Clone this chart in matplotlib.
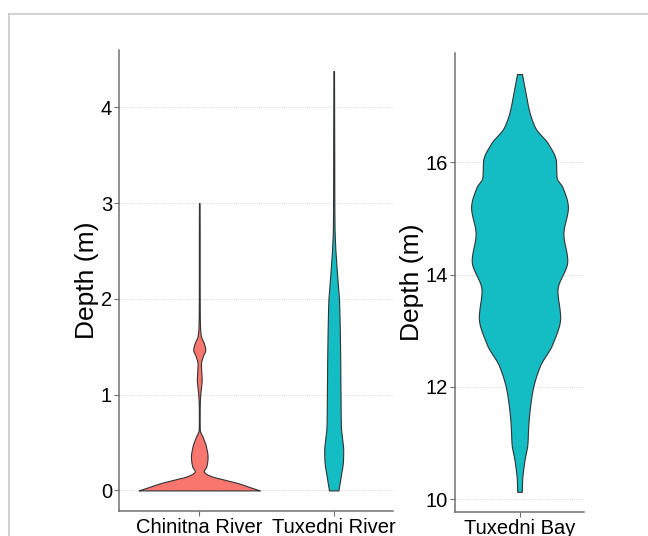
import numpy as np
import matplotlib
matplotlib.use("Agg")
import matplotlib.pyplot as plt
from matplotlib.lines import Line2D

plt.rcParams['font.family'] = ['Liberation Sans', 'DejaVu Sans']

# violin outlines: depth (m) and relative half-width
chinitna_depth = [0, 0.04, 0.075, 0.11, 0.145, 0.18, 0.2, 0.25, 0.35, 0.46, 0.56, 0.63,
                  0.7, 0.8, 0.9, 1.0, 1.08, 1.16, 1.24, 1.32, 1.4, 1.47, 1.54, 1.61,
                  1.7, 1.85, 2.2, 2.6, 3.0]
chinitna_dens = [60.5, 49, 39, 26, 13, 6, 4.5, 7, 8.3, 6.7, 3.3, 0.6,
                 0.4, 0.4, 0.5, 1.0, 1.8, 2.4, 2.0, 1.7, 3.5, 6.0, 4.5, 1.7,
                 0.8, 0.5, 0.4, 0.4, 0.3]

tux_river_depth = [0, 0.145, 0.32, 0.42, 0.56, 0.67, 1.02, 1.37, 1.71, 1.99, 2.13,
                   2.34, 2.55, 2.76, 3.1, 3.6, 4.0, 4.38]
tux_river_dens = [4.7, 7, 9.3, 9.5, 8.2, 7.2, 6.8, 6.5, 6, 5.3, 4.3,
                  2.8, 1.5, 0.8, 0.6, 0.5, 0.4, 0.3]

tux_bay_depth = [10.13, 10.34, 10.69, 10.99, 11.29, 11.88, 12.35, 12.77, 13.24, 13.72,
                 14.25, 14.73, 15.20, 15.56, 15.73, 16.03, 16.33, 16.62, 16.92, 17.22, 17.575]
tux_bay_dens = [2.3, 2.7, 5, 8, 8.8, 12.5, 20, 33.3, 41, 38.3,
                48.2, 44.3, 48.8, 43.3, 37.5, 36.7, 29, 15.8, 9.7, 6.3, 2.5]

left_cats = ['Chinitna River', 'Tuxedni River']
right_cats = ['Tuxedni Bay']
red = '#F8766D'
teal = '#14BCC3'

fig = plt.figure(figsize=(6.48, 5.36), dpi=100)
ax1 = fig.add_axes([119/648, 25/536, 274/648, 461/536])
ax2 = fig.add_axes([455/648, 24/536, 129/648, 459/536])

# light frame line top / left
fig.add_artist(Line2D([9/648, 1], [1-14/536, 1-14/536], color='#c8c8c8', lw=1.2))
fig.add_artist(Line2D([9/648, 9/648], [0, 1-14/536], color='#c8c8c8', lw=1.2))


def pchip(x, y, xi):
    # monotone cubic so the outline is smooth without overshoot
    x = np.asarray(x, float)
    y = np.asarray(y, float)
    h = np.diff(x)
    delta = np.diff(y) / h
    d = np.zeros_like(y)
    for k in range(1, len(x) - 1):
        if delta[k-1] * delta[k] > 0:
            w1 = 2*h[k] + h[k-1]
            w2 = h[k] + 2*h[k-1]
            d[k] = (w1 + w2) / (w1/delta[k-1] + w2/delta[k])
    d[0] = delta[0]
    d[-1] = delta[-1]
    idx = np.clip(np.searchsorted(x, xi) - 1, 0, len(x) - 2)
    t = (xi - x[idx]) / h[idx]
    h00 = 2*t**3 - 3*t**2 + 1
    h10 = t**3 - 2*t**2 + t
    h01 = -2*t**3 + 3*t**2
    h11 = t**3 - t**2
    return h00*y[idx] + h10*h[idx]*d[idx] + h01*y[idx+1] + h11*h[idx]*d[idx+1]


def draw_violin(ax, pos, depth, dens, scale, color):
    y = np.linspace(depth[0], depth[-1], 800)
    w = pchip(depth, dens, y) * scale
    ax.fill_betweenx(y, pos - w, pos + w, facecolor=color, edgecolor='#333333', linewidth=0.8)


def style(ax):
    for s in ['top', 'right']:
        ax.spines[s].set_visible(False)
    for s in ['left', 'bottom']:
        ax.spines[s].set_color('#707070')
        ax.spines[s].set_linewidth(1.1)
    ax.tick_params(colors='#707070', labelcolor='black', labelsize=14.5, length=3.5, width=0.8, pad=1.5)
    ax.yaxis.grid(True, linestyle=(0, (1, 1.5)), color='#cfcfcf', linewidth=0.6)
    ax.set_axisbelow(True)
    ax.set_ylabel('Depth (m)', fontsize=19, labelpad=1)


left_scale = 0.45 / max(max(chinitna_dens), max(tux_river_dens))
draw_violin(ax1, 1, chinitna_depth, chinitna_dens, left_scale, red)
draw_violin(ax1, 2, tux_river_depth, tux_river_dens, left_scale, teal)
ax1.set_xlim(0.403, 2.441)
ax1.set_ylim(-0.215, 4.60)
ax1.set_xticks([1, 2])
ax1.set_xticklabels(left_cats)
ax1.set_yticks([0, 1, 2, 3, 4])
style(ax1)

right_scale = 0.45 / max(tux_bay_dens)
draw_violin(ax2, 1, tux_bay_depth, tux_bay_dens, right_scale, teal)
ax2.set_xlim(0.4, 1.6)
ax2.set_ylim(9.77, 17.95)
ax2.set_xticks([1])
ax2.set_xticklabels(right_cats)
ax2.set_yticks([10, 12, 14, 16])
style(ax2)

fig.savefig('out.png', dpi=100)
